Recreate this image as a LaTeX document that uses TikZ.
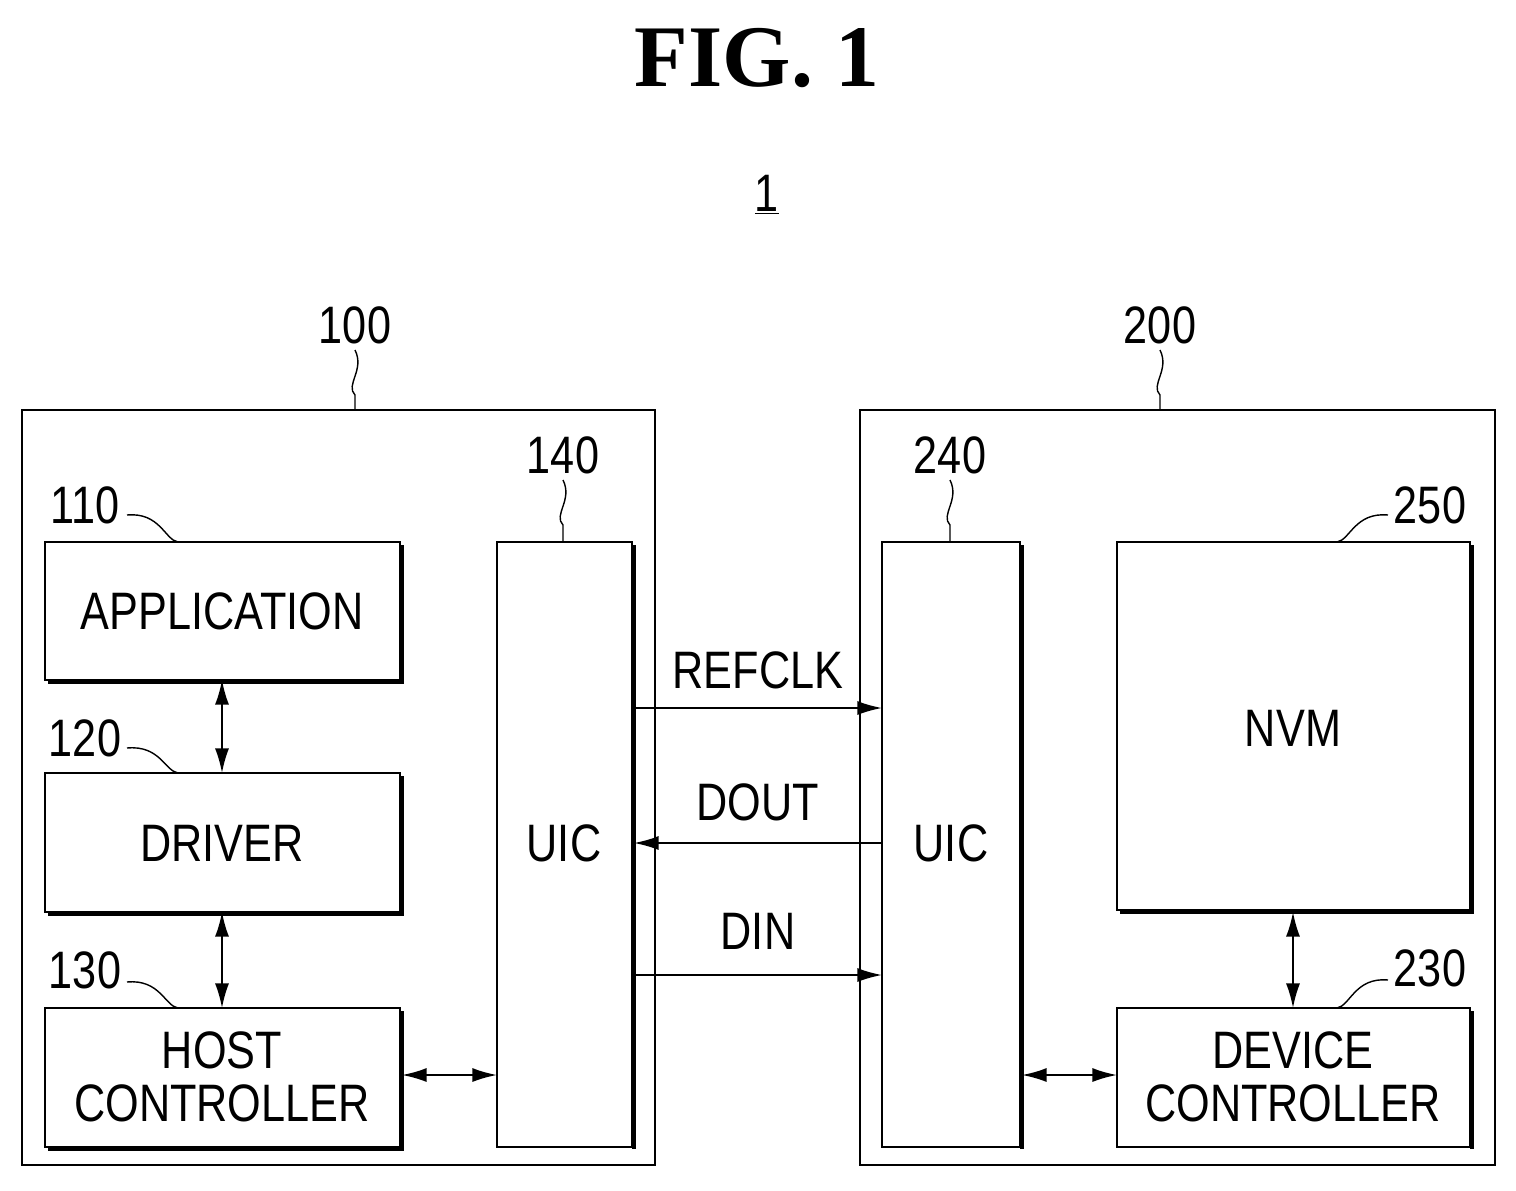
\documentclass[tikz,border=0pt]{standalone}
\usepackage{fontspec}
\setmainfont{Liberation Serif}
\newfontfamily\nar[FakeStretch=0.82]{Liberation Sans}
\usetikzlibrary{arrows.meta}
\begin{document}
\begin{tikzpicture}[x=0.02cm,y=-0.02cm,
  box/.style={draw,line width=1.2pt},
  lbl/.style={font=\nar\fontsize{30}{34}\selectfont,align=center,inner sep=0},
  num/.style={font=\nar\fontsize{30}{34}\selectfont,inner sep=0},
  ar/.style={line width=1.1pt,-{Latex[length=14pt,width=8pt]}},
  dar/.style={line width=1.1pt,{Latex[length=14pt,width=8pt]}-{Latex[length=14pt,width=8pt]}},
  ld/.style={line width=0.8pt}]
\useasboundingbox (0,0) rectangle (1516,1191);
\node[font=\bfseries\fontsize{50}{56}\selectfont] (title) at (757,58) {FIG. 1};
\node[num] (one) at (767,195) {\underline{1}};
% outer
\draw[box] (22,410) rectangle (655,1165);
\draw[box] (860,410) rectangle (1495,1165);
\coordinate (o1) at (355,410); \coordinate (o2) at (1160,410);
% boxes
\draw[box] (45,542) rectangle (400,680); \draw[line width=2.5pt] (402,545)--(402,682)--(48,682);
\node[lbl] (app) at (222,611) {APPLICATION};
\draw[box] (45,773) rectangle (400,912); \draw[line width=2.5pt] (402,776)--(402,914)--(48,914);
\node[lbl] (drv) at (222,843) {DRIVER};
\draw[box] (45,1008) rectangle (400,1147); \draw[line width=2.5pt] (402,1011)--(402,1149)--(48,1149);
\node[lbl] (hc) at (222,1077) {HOST\\[-4pt]CONTROLLER};
\draw[box] (497,542) rectangle (632,1147); \draw[line width=2.5pt] (634,545)--(634,1149);
\node[lbl] (uic1) at (564,843) {UIC};
\draw[box] (882,542) rectangle (1020,1147); \draw[line width=2.5pt] (1022,545)--(1022,1149);
\node[lbl] (uic2) at (951,843) {UIC};
\draw[box] (1117,542) rectangle (1470,910); \draw[line width=2.5pt] (1472,545)--(1472,912)--(1120,912);
\node[lbl] (nvm) at (1293,728) {NVM};
\draw[box] (1117,1008) rectangle (1470,1147); \draw[line width=2.5pt] (1472,1011)--(1472,1149);
\node[lbl] (dc) at (1293,1077) {DEVICE\\[-4pt]CONTROLLER};
% named endpoints
\coordinate (a1) at (222,680); \coordinate (d1) at (222,773);
\coordinate (d2) at (222,912); \coordinate (h1) at (222,1008);
\coordinate (hr) at (402,1075); \coordinate (ul) at (497,1075);
\coordinate (ur) at (1022,1075); \coordinate (dl) at (1117,1075);
\coordinate (nb) at (1293,912); \coordinate (dt) at (1293,1008);
\coordinate (r1) at (634,708); \coordinate (r2) at (882,708);
\coordinate (o1a) at (882,843); \coordinate (o1b) at (634,843);
\coordinate (i1) at (634,975); \coordinate (i2) at (882,975);
\draw[dar] (a1)--(d1); \draw[dar] (d2)--(h1); \draw[dar] (hr)--(ul);
\draw[dar] (ur)--(dl); \draw[dar] (nb)--(dt);
\draw[ar] (r1)--(r2) node[midway,above=10pt,lbl]{REFCLK};
\draw[ar] (o1a)--(o1b) node[midway,above=12pt,lbl]{DOUT};
\draw[ar] (i1)--(i2) node[midway,above=14pt,lbl]{DIN};
% reference numbers
\node[num] (n100) at (355,325) {100};
\draw[ld] (355,350) .. controls (365,370) and (345,385) .. (355,395) -- (o1);
\node[num] (n200) at (1160,325) {200};
\draw[ld] (1160,350) .. controls (1170,370) and (1150,385) .. (1160,395) -- (o2);
\node[num] (n140) at (563,455) {140};
\draw[ld] (563,480) .. controls (573,500) and (553,515) .. (563,525) -- (563,542);
\node[num] (n240) at (950,455) {240};
\draw[ld] (950,480) .. controls (960,500) and (940,515) .. (950,525) -- (950,542);
\node[num] (n110) at (85,505) {110};
\draw[ld] (127,515) .. controls (160,512) and (165,540) .. (178,542);
\node[num] (n120) at (85,738) {120};
\draw[ld] (127,748) .. controls (160,745) and (165,771) .. (178,773);
\node[num] (n130) at (85,970) {130};
\draw[ld] (127,982) .. controls (160,979) and (165,1006) .. (178,1008);
\node[num] (n250) at (1430,505) {250};
\draw[ld] (1388,515) .. controls (1355,512) and (1350,540) .. (1337,542);
\node[num] (n230) at (1430,968) {230};
\draw[ld] (1388,980) .. controls (1355,977) and (1350,1006) .. (1337,1008);
\end{tikzpicture}
\end{document}
